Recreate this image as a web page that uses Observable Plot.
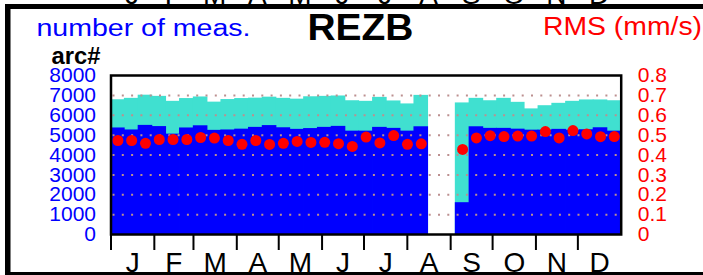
<!DOCTYPE html>
<html><head><meta charset="utf-8">
<script src="https://cdn.jsdelivr.net/npm/d3@7"></script>
<script src="https://cdn.jsdelivr.net/npm/@observablehq/plot@0.6"></script>
<style>
html,body{margin:0;padding:0;background:#fff;}
#chart{position:relative;width:703px;height:275px;overflow:hidden;background:#fff;}
</style></head><body><div id="chart"></div>
<script>
// ---- data ----
const monthLetters = ["J","F","M","A","M","J","J","A","S","O","N","D"];
const monthStartDays = [0,31,59,90,120,151,181,212,243,273,304,334];
const monthMidDays = [15.5,45,74.5,105,135.5,166,196.5,227.5,258,288.5,319,349.5];
const binCount = 37;
const totalArcs = [6780,6850,7010,6950,6700,6840,6920,6660,6790,6840,6860,6910,6850,6810,6930,6950,6970,6730,6700,6900,6720,6570,7000,null,null,6620,6850,6730,6850,6650,6320,6480,6600,6700,6770,6770,6730];
const usedArcs = [5360,5260,5490,5430,5050,5360,5470,5240,5260,5300,5390,5480,5370,5290,5330,5390,5440,5200,5200,5390,5340,5200,5420,null,null,1600,5420,5340,5340,5300,5250,5250,5290,5250,5270,5370,5200];
const rmsMmS = [0.473,0.473,0.459,0.478,0.478,0.478,0.488,0.485,0.473,0.454,0.473,0.453,0.459,0.468,0.463,0.464,0.457,0.443,0.490,0.461,0.498,0.454,0.456,null,null,0.428,0.486,0.497,0.493,0.495,0.495,0.518,0.486,0.523,0.506,0.492,0.493];
const arcTicks = [0,1000,2000,3000,4000,5000,6000,7000,8000];
const gridTicks = [1000,2000,3000,4000,5000,6000,7000];
const rmsPerArc = 10000; // right axis: 0.8 mm/s <-> 8000 arcs

const binDays = 365 / binCount;
const table = totalArcs.map((t, i) => ({
  x1: i * binDays, x2: (i + 1) * binDays, xm: (i + 0.5) * binDays,
  total: t, used: usedArcs[i], rms: rmsMmS[i]
})).filter(d => d.total != null);

const plot = Plot.plot({
  width: 703, height: 275,
  marginLeft: 110.5, marginRight: 82.3, marginTop: 75, marginBottom: 41,
  x: {domain: [0, 365], axis: null},
  y: {domain: [0, 8000], axis: null},
  style: {background: "white", fontFamily: "'Liberation Sans', Arial, sans-serif", overflow: "visible"},
  marks: [
    Plot.rect(table, {x1: "x1", x2: "x2", y1: 0, y2: "total", fill: "#40e0d0", insetLeft: -0.4, insetRight: -0.4}),
    Plot.rect(table, {x1: "x1", x2: "x2", y1: 0, y2: "used", fill: "#0000ff", insetLeft: -0.4, insetRight: -0.4}),
    Plot.ruleY(gridTicks, {stroke: "#bc8f8f", strokeWidth: 2, strokeDasharray: "2,7.3", strokeDashoffset: -2}),
    Plot.dot(table, {x: "xm", y: d => d.rms * rmsPerArc, r: 5.5, fill: "#ff0000", stroke: "none"}),
    Plot.frame({stroke: "black", strokeWidth: 2.5}),
    Plot.axisY({anchor: "left", ticks: arcTicks, tickSize: 0, tickPadding: 15, fontSize: 21, color: "#0000ff", tickFormat: d => String(d), ariaLabel: "arc-axis"}),
    Plot.axisY({anchor: "right", ticks: arcTicks, tickSize: 0, tickPadding: 16.5, fontSize: 21, color: "#ff0000", tickFormat: d => String(d / rmsPerArc), ariaLabel: "rms-axis"}),
    Plot.axisX({anchor: "bottom", ticks: monthStartDays, tickSize: 16, tickFormat: () => "", strokeWidth: 2, color: "black"}),
    Plot.axisX({anchor: "bottom", ticks: monthMidDays, tickSize: 0, tickPadding: 18, fontSize: 28, color: "black",
      tickFormat: d => monthLetters[monthMidDays.indexOf(d)], ariaLabel: "month-axis"})
  ]
});
document.getElementById("chart").appendChild(plot);

const svg = d3.select(plot);
const xs = plot.scale("x");

// stretch axis numbers horizontally like the original
svg.selectAll('g[aria-label="arc-axis"] text, g[aria-label="rms-axis"] text').each(function() {
  const w = this.getComputedTextLength();
  this.setAttribute("textLength", w * 1.2);
  this.setAttribute("lengthAdjust", "spacingAndGlyphs");
});

// clipped month letters of the panel above
const prevPanel = svg.append("g");
monthMidDays.forEach((m, i) => {
  prevPanel.append("text").attr("x", xs.apply(m)).attr("y", 3.5).attr("text-anchor", "middle")
    .attr("font-size", 28).attr("fill", "black").text(monthLetters[i]);
});

function label(txt, x, y, size, color, weight, len, anchor) {
  const t = svg.append("text").attr("x", x).attr("y", y).attr("font-size", size)
    .attr("fill", color).attr("font-weight", weight).attr("text-anchor", anchor || "start").text(txt);
  if (len) t.attr("textLength", len).attr("lengthAdjust", "spacingAndGlyphs");
  return t;
}
label("number of meas.", 36.5, 36, 23.5, "#0000ff", "normal", 214);
label("REZB", 307.5, 40, 37, "black", "bold", 106);
label("RMS (mm/s)", 543, 35, 25.5, "#ff0000", "normal", 159);
label("arc#", 51.5, 63.5, 23, "black", "bold", 49);

// outer panel border
svg.append("rect").attr("x", 5).attr("y", 4).attr("width", 698).attr("height", 5).attr("fill", "black");
svg.append("rect").attr("x", 5).attr("y", 4).attr("width", 5.5).attr("height", 271).attr("fill", "black");
svg.append("rect").attr("x", 5).attr("y", 272).attr("width", 698).attr("height", 3).attr("fill", "black");
</script></body></html>
